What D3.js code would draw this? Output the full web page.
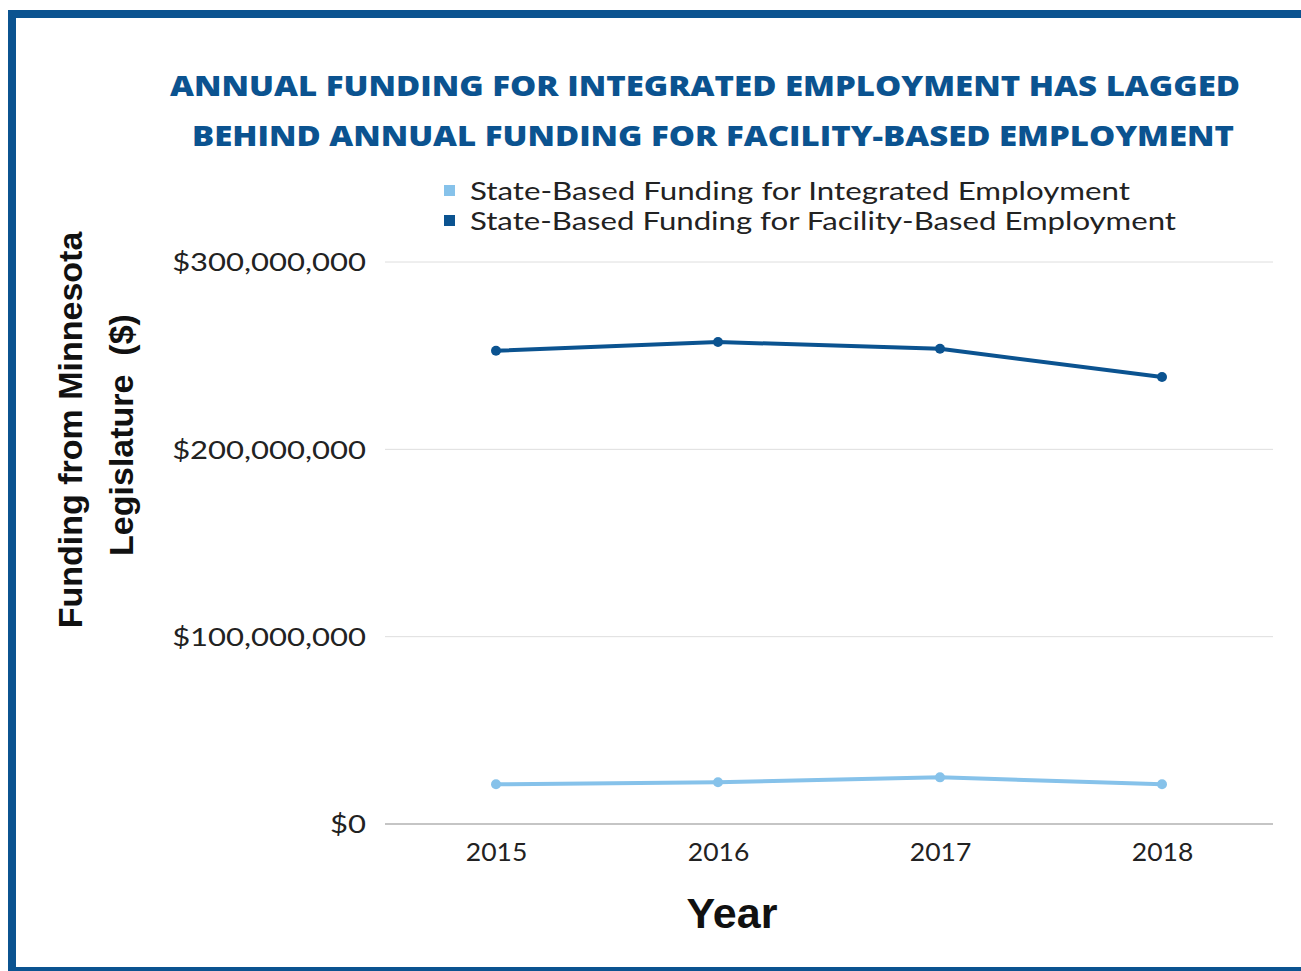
<!DOCTYPE html>
<html>
<head>
<meta charset="utf-8">
<script src="https://cdn.jsdelivr.net/npm/d3@7"></script>
<style>
  html, body { margin: 0; padding: 0; background: #ffffff; }
  svg { display: block; }
</style>
</head>
<body>
<div id="chart"></div>
<script>
// Minnesota state-based employment funding by year
const years = ["2015", "2016", "2017", "2018"];
const integratedFunding = [21200000, 22300000, 24900000, 21200000];
const facilityFunding = [252600000, 257300000, 253700000, 238600000];
const yTicks = [0, 100000000, 200000000, 300000000];
const seriesNames = [
  "State-Based Funding for Integrated Employment",
  "State-Based Funding for Facility-Based Employment"
];
const seriesColors = ["#86c2ea", "#0b5390"];
const titleLines = [
  "ANNUAL FUNDING FOR INTEGRATED EMPLOYMENT HAS LAGGED",
  "BEHIND ANNUAL FUNDING FOR FACILITY-BASED EMPLOYMENT"
];

const W = 1301, H = 971;
const svg = d3.select("#chart").append("svg").attr("width", W).attr("height", H);

// frame
const frame = "#0b5390";
svg.append("rect").attr("x", 8).attr("y", 10).attr("width", W).attr("height", 8).attr("fill", frame);
svg.append("rect").attr("x", 8).attr("y", 10).attr("width", 8).attr("height", H).attr("fill", frame);
svg.append("rect").attr("x", 8).attr("y", 967).attr("width", W).attr("height", 4).attr("fill", frame);

// title
const titleFont = "'Open Sans', 'DejaVu Sans', sans-serif";
const titleX = [705, 713];
const titleW = [1070, 1042];
svg.selectAll("text.title").data(titleLines).enter().append("text")
  .attr("class", "title")
  .attr("x", (d, i) => titleX[i])
  .attr("y", (d, i) => 96 + i * 50)
  .attr("text-anchor", "middle")
  .attr("textLength", (d, i) => titleW[i])
  .attr("lengthAdjust", "spacingAndGlyphs")
  .style("font-family", titleFont)
  .style("font-weight", 800)
  .style("font-size", "29px")
  .style("fill", frame)
  .text(d => d);

// scales
const x = d3.scalePoint().domain(years).range([385, 1273]).padding(0.5);
const y = d3.scaleLinear().domain([0, 300000000]).range([824, 262]);

const bodyFont = "'Lato', 'Open Sans', sans-serif";

// widen tick text a little for a broader, geometric look
function widen(sel, factor) {
  sel.each(function () {
    const w = this.getComputedTextLength();
    d3.select(this).attr("textLength", w * factor).attr("lengthAdjust", "spacingAndGlyphs");
  });
}

// gridlines
svg.append("g").selectAll("line").data(yTicks).enter().append("line")
  .attr("x1", 385).attr("x2", 1273)
  .attr("y1", d => y(d)).attr("y2", d => y(d))
  .attr("stroke", d => d === 0 ? "#8c8c8c" : "#dedede")
  .attr("stroke-width", d => d === 0 ? 1.2 : 1);

// y axis labels
const yAxis = d3.axisLeft(y).tickValues(yTicks)
  .tickFormat(d => "$" + d3.format(",")(d)).tickSize(0).tickPadding(0);
const yg = svg.append("g").attr("transform", "translate(366,0)").call(yAxis);
yg.select(".domain").remove();
yg.selectAll("text")
  .style("font-family", bodyFont).style("font-size", "25px").style("fill", "#222")
  .attr("dy", "0.35em");
widen(yg.selectAll("text"), 1.24);

// x axis labels
const xAxis = d3.axisBottom(x).tickSize(0).tickPadding(0);
const xg = svg.append("g").attr("transform", "translate(0,843)").call(xAxis);
xg.select(".domain").remove();
xg.selectAll("text")
  .style("font-family", bodyFont).style("font-size", "25px").style("fill", "#222")
  .attr("dy", "0.7em");
widen(xg.selectAll("text"), 1.06);

// axis titles
svg.append("text")
  .attr("transform", "translate(82,430) rotate(-90)")
  .attr("text-anchor", "middle")
  .style("font-family", "'Liberation Sans', Arial, sans-serif")
  .style("font-weight", 700).style("font-size", "34px").style("fill", "#111")
  .text("Funding from Minnesota");
svg.append("text")
  .attr("transform", "translate(133,435) rotate(-90)")
  .attr("text-anchor", "middle")
  .attr("xml:space", "preserve")
  .style("white-space", "pre")
  .style("font-family", "'Liberation Sans', Arial, sans-serif")
  .style("font-weight", 700).style("font-size", "34px").style("fill", "#111")
  .text("Legislature  ($)");
svg.append("text")
  .attr("x", 732).attr("y", 928)
  .attr("text-anchor", "middle")
  .style("font-family", "'Liberation Sans', Arial, sans-serif")
  .style("font-weight", 700).style("font-size", "43px").style("fill", "#111")
  .text("Year");

// legend
const legend = svg.append("g");
seriesNames.forEach((name, i) => {
  legend.append("rect")
    .attr("x", 444).attr("y", 185 + i * 30).attr("width", 11).attr("height", 11)
    .attr("fill", seriesColors[i]);
  legend.append("text")
    .attr("x", 470).attr("y", 191 + i * 30)
    .attr("dy", "0.35em")
    .attr("textLength", i === 0 ? 660 : 706)
    .attr("lengthAdjust", "spacingAndGlyphs")
    .style("font-family", bodyFont).style("font-size", "25px").style("fill", "#222")
    .text(name);
});

// series lines and points
const seriesData = [integratedFunding, facilityFunding];
const line = d3.line().x((d, i) => x(years[i])).y(d => y(d));
seriesData.forEach((vals, s) => {
  svg.append("path")
    .datum(vals)
    .attr("d", line)
    .attr("fill", "none")
    .attr("stroke", seriesColors[s])
    .attr("stroke-width", 4)
    .attr("stroke-linejoin", "round");
  svg.append("g").selectAll("circle").data(vals).enter().append("circle")
    .attr("cx", (d, i) => x(years[i]))
    .attr("cy", d => y(d))
    .attr("r", 5)
    .attr("fill", seriesColors[s]);
});
</script>
</body>
</html>
